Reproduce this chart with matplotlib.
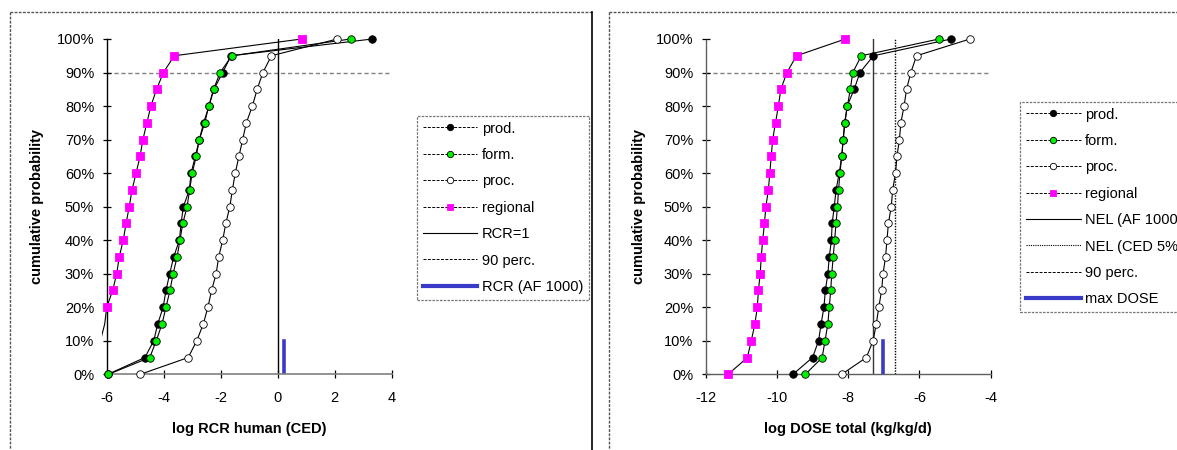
import matplotlib
matplotlib.use("Agg")
import matplotlib.pyplot as plt
import numpy as np
from matplotlib.lines import Line2D
from matplotlib.ticker import FuncFormatter
from matplotlib.transforms import Bbox, TransformedBbox

plt.rcParams.update({
    "font.family": ["Liberation Sans", "DejaVu Sans"],
    "font.size": 10,
    "axes.linewidth": 1.0,
})

# --- data -------------------------------------------------------------------
perc = np.arange(0, 101, 5) / 100.0

# left panel: log RCR human (CED)
rcr_prod = [-5.96, -4.66, -4.35, -4.21, -4.02, -3.92, -3.79, -3.65, -3.45, -3.39, -3.31,
            -3.10, -3.04, -2.89, -2.75, -2.60, -2.41, -2.24, -1.93, -1.64, 3.32]
rcr_form = [-5.94, -4.49, -4.26, -4.06, -3.92, -3.78, -3.67, -3.53, -3.43, -3.33, -3.18,
            -3.09, -3.00, -2.86, -2.75, -2.56, -2.42, -2.25, -2.02, -1.61, 2.56]
rcr_proc = [-4.82, -3.14, -2.84, -2.61, -2.45, -2.32, -2.16, -2.07, -1.93, -1.82, -1.68,
            -1.59, -1.49, -1.36, -1.23, -1.10, -0.89, -0.72, -0.52, -0.22, 2.09]
rcr_regional = [-7.30, -6.50, -6.22, -6.07, -6.00, -5.79, -5.65, -5.56, -5.42, -5.32, -5.21,
                -5.11, -4.97, -4.83, -4.73, -4.59, -4.45, -4.25, -4.01, -3.63, 0.84]
rcr_one = 0.0
rcr_af1000 = 0.22

# right panel: log DOSE total (kg/kg/d)
dose_prod = [-9.55, -9.00, -8.83, -8.76, -8.68, -8.64, -8.57, -8.53, -8.47, -8.45, -8.39,
             -8.34, -8.25, -8.18, -8.14, -8.09, -8.03, -7.83, -7.67, -7.29, -5.11]
dose_form = [-9.20, -8.73, -8.65, -8.57, -8.53, -8.49, -8.46, -8.42, -8.38, -8.34, -8.30,
             -8.27, -8.23, -8.18, -8.14, -8.10, -8.02, -7.94, -7.87, -7.63, -5.45]
dose_proc = [-8.18, -7.49, -7.30, -7.21, -7.14, -7.06, -7.02, -6.95, -6.91, -6.87, -6.79,
             -6.75, -6.67, -6.63, -6.56, -6.52, -6.43, -6.36, -6.24, -6.08, -4.58]
dose_regional = [-11.37, -10.83, -10.72, -10.62, -10.55, -10.52, -10.47, -10.44, -10.40, -10.35, -10.31,
                 -10.24, -10.20, -10.16, -10.12, -10.04, -9.96, -9.89, -9.72, -9.45, -8.08]
nel_af1000 = -7.30
nel_ced5 = -6.69
max_dose = -7.03

# --- styles -----------------------------------------------------------------
GREEN, MAGENTA, BLUE, GREY = "#00ee00", "#ff00ff", "#3a3ac8", "#808080"
FIG_W, FIG_H = 1177, 450
SERIES_STYLE = [
    ("prod.", dict(marker="o", mfc="black", ms=5.4)),
    ("form.", dict(marker="o", mfc=GREEN, ms=5.4)),
    ("proc.", dict(marker="o", mfc="white", ms=5.4)),
    ("regional", dict(marker="s", mfc=MAGENTA, mec=MAGENTA, ms=5.8)),
]


def fx(px):
    return px / FIG_W


def fy(py):
    return 1 - py / FIG_H


def axes_rect(x0, x1, ytop=39.0, ybot=374.3):
    return [fx(x0), fy(ybot), fx(x1) - fx(x0), fy(ytop) - fy(ybot)]


def draw_series(ax, xs, style, xlim, clip_left=None):
    xs = np.asarray(xs)
    line, = ax.plot(xs, perc, color="black", lw=0.8, zorder=3)
    if clip_left is not None:
        line.set_clip_box(TransformedBbox(Bbox([[clip_left, -0.1], [xlim[1], 1.1]]),
                                          ax.transData))
    # markers outside the axis range are not drawn
    m = (xs >= xlim[0] - 1e-9) & (xs <= xlim[1])
    kw = dict(mec="black", mew=0.6)
    kw.update(style)
    ax.plot(xs[m], perc[m], ls="none", zorder=4, clip_on=False, **kw)


def setup_axes(ax, xlim, xticks, xlabel, ylabel_pad):
    ax.set_xlim(*xlim)
    ax.set_ylim(0, 1)
    ax.set_xticks(xticks)
    ax.set_yticks(np.arange(0, 1.01, 0.1))
    ax.yaxis.set_major_formatter(FuncFormatter(lambda v, _: f"{v * 100:.0f}%"))
    ax.set_xticklabels([f"{t:g}" for t in xticks])
    for side in ("top", "right"):
        ax.spines[side].set_visible(False)
    ax.tick_params(direction="inout", length=6, width=0.9, labelsize=10.5)
    ax.tick_params(axis="x", pad=9)
    ax.tick_params(axis="y", pad=6)
    ax.set_xlabel(xlabel, fontweight="bold", fontsize=10.5, labelpad=12)
    ax.set_ylabel("cumulative probability", fontweight="bold", fontsize=10.5,
                  labelpad=ylabel_pad)
    ax.axhline(0.9, color=GREY, lw=1.0, ls=(0, (3, 2)), zorder=1)
    ax.set_facecolor("none")


def make_legend(ax, extra, anchor_px):
    handles = []
    for label, st in SERIES_STYLE:
        kw = dict(mec="black", mew=0.6)
        kw.update(st)
        kw["ms"] = kw["ms"] - 0.8
        handles.append(Line2D([], [], color="black", lw=0.7, ls=(0, (3, 1.5)),
                              label=label, **kw))
    handles += extra
    leg = ax.legend(handles=handles, loc="upper left", numpoints=1,
                    bbox_to_anchor=(fx(anchor_px[0]), fy(anchor_px[1])),
                    bbox_transform=ax.figure.transFigure,
                    borderaxespad=0, handlelength=3.75, handletextpad=0.32,
                    labelspacing=0.85, borderpad=0.4, fontsize=10.5,
                    fancybox=False, frameon=True)
    fr = leg.get_frame()
    fr.set_edgecolor("#555555")
    fr.set_linestyle((0, (2, 1)))
    fr.set_linewidth(0.9)
    return leg


fig = plt.figure(figsize=(FIG_W / 100, FIG_H / 100), dpi=100)

# outer chart-area borders
border = dict(color="#555555", lw=1.0, ls=(0, (2, 1)), transform=fig.transFigure)
fig.add_artist(Line2D([fx(10), fx(10)], [fy(12), 0], **border))
fig.add_artist(Line2D([fx(10), fx(592)], [fy(12), fy(12)], **border))
fig.add_artist(Line2D([fx(592), fx(592)], [fy(12), 0], color="black", lw=1.2,
                      transform=fig.transFigure))
fig.add_artist(Line2D([fx(609), fx(609)], [fy(12), 0], **border))
fig.add_artist(Line2D([fx(609), 1], [fy(12), fy(12)], **border))

# --- left panel ---------------------------------------------------------------
ax1 = fig.add_axes(axes_rect(106.7, 391.7))
xl1 = (-6, 4)
setup_axes(ax1, xl1, [-6, -4, -2, 0, 2, 4], "log RCR human (CED)", 9)
ax1.spines["left"].set_color("black")
ax1.spines["bottom"].set_color(GREY)
ax1.spines["bottom"].set_linewidth(1.2)
ax1.plot([rcr_one, rcr_one], [0, 1], color="black", lw=1.0, zorder=2)
ax1.plot([rcr_af1000, rcr_af1000], [0, 0.1], color=BLUE, lw=2.6, zorder=2)
for xs, (label, st) in zip([rcr_prod, rcr_form, rcr_proc, rcr_regional], SERIES_STYLE):
    draw_series(ax1, xs, st, xl1, clip_left=-6.18)
make_legend(ax1, [
    Line2D([], [], color="black", lw=0.8, label="RCR=1"),
    Line2D([], [], color="black", lw=0.7, ls=(0, (3, 1.5)), label="90 perc."),
    Line2D([], [], color=BLUE, lw=3.0, label="RCR (AF 1000)"),
], (416.7, 115.7))

# --- right panel --------------------------------------------------------------
ax2 = fig.add_axes(axes_rect(705.7, 990.6))
xl2 = (-12, -4)
setup_axes(ax2, xl2, [-12, -10, -8, -6, -4], "log DOSE total (kg/kg/d)", 7)
for side in ("left", "bottom"):
    ax2.spines[side].set_color("#606060")
    ax2.spines[side].set_linestyle((0, (2.5, 1)))
ax2.plot([nel_af1000, nel_af1000], [0, 1], color="#333333", lw=1.0, zorder=2)
ax2.plot([nel_ced5, nel_ced5], [0, 1], color="black", lw=1.0, ls=(0, (1, 1)), zorder=2)
ax2.plot([max_dose, max_dose], [0, 0.1], color=BLUE, lw=2.6, zorder=2)
for xs, (label, st) in zip([dose_prod, dose_form, dose_proc, dose_regional], SERIES_STYLE):
    draw_series(ax2, xs, st, xl2)
make_legend(ax2, [
    Line2D([], [], color="black", lw=0.8, label="NEL (AF 1000)"),
    Line2D([], [], color="black", lw=0.8, ls=(0, (1, 1)), label="NEL (CED 5%)"),
    Line2D([], [], color="black", lw=0.7, ls=(0, (3, 1.5)), label="90 perc."),
    Line2D([], [], color=BLUE, lw=3.0, label="max DOSE"),
], (1020, 101.7))

fig.savefig("out.png", dpi=100)
